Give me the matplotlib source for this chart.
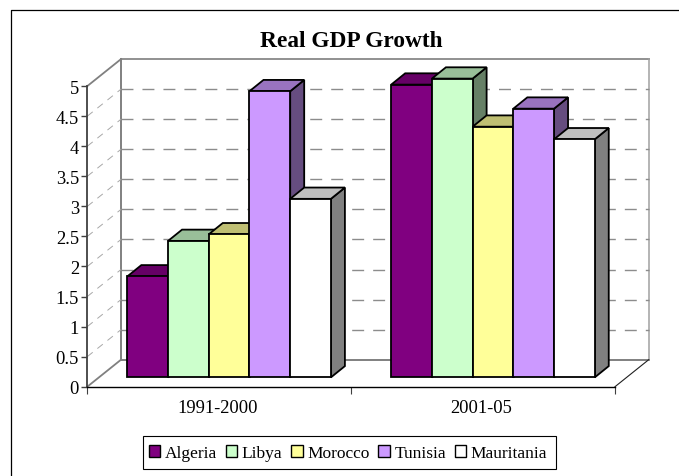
import matplotlib
matplotlib.use('Agg')
import matplotlib.pyplot as plt
import numpy as np
from matplotlib.lines import Line2D
from matplotlib.patches import Patch, Polygon, Rectangle
from matplotlib.transforms import Affine2D, IdentityTransform

periods = ['1991-2000', '2001-05']
countries = ['Algeria', 'Libya', 'Morocco', 'Tunisia', 'Mauritania']
algeria = [1.68, 4.87]
libya = [2.27, 4.97]
morocco = [2.38, 4.17]
tunisia = [4.76, 4.47]
mauritania = [2.97, 3.96]
y_ticks = [0, 0.5, 1, 1.5, 2, 2.5, 3, 3.5, 4, 4.5, 5]
y_labels = ['0', '0.5', '1', '1.5', '2', '2.5', '3', '3.5', '4', '4.5', '5']

series = [algeria, libya, morocco, tunisia, mauritania]
front_cols = ['#800080', '#CCFFCC', '#FFFF99', '#CC99FF', '#FFFFFF']
top_cols = ['#660066', '#99BF99', '#BFBF73', '#9973BF', '#BFBFBF']
side_cols = ['#400040', '#668066', '#808050', '#664D80', '#808080']

W, H = 679, 477
plt.rcParams['font.family'] = ['Liberation Serif', 'DejaVu Serif']
plt.rcParams['lines.scale_dashes'] = False

fig = plt.figure(figsize=(W / 100, H / 100), dpi=100)
ax = fig.add_axes([87.3 / W, (H - 387.7) / H, 527.7 / W, 300.6 / H])
ax.patch.set_visible(False)
ax.set_xlim(0, 2)
ax.set_ylim(0, 5)

# depth offsets in pixels
WALL = (33.7, 27)
BAR_FRONT = (9.9, 9.3)
BAR_DEPTH = (14, 11.3)
bar_w = 0.1543
px = IdentityTransform()


def to_px(x, y, off=(0, 0)):
    p = ax.transData.transform((x, y))
    return p[0] + off[0], p[1] + off[1]


def seg(a, b, **kw):
    ax.add_line(Line2D([a[0], b[0]], [a[1], b[1]], transform=px, clip_on=False, **kw))


# back wall and floor
seg(to_px(0, 0, WALL), to_px(2, 0, WALL), color='#808080', lw=1.4, zorder=1)
seg(to_px(0, 5, WALL), to_px(2, 5, WALL), color='#909090', lw=1.4, zorder=1)
seg(to_px(0, 0, WALL), to_px(0, 5, WALL), color='#808080', lw=1.4, zorder=1)
seg(to_px(2, 0, WALL), to_px(2, 5, WALL), color='#A0A0A0', lw=1.1, zorder=1)
seg(to_px(0, 0), to_px(0, 0, WALL), color='#808080', lw=1.3, zorder=1)
seg(to_px(0, 5), to_px(0, 5, WALL), color='#808080', lw=1.3, zorder=1)
seg(to_px(2, 0), to_px(2, 0, WALL), color='#202020', lw=0.8, zorder=1)

# gridlines, back wall and side wall
for v in y_ticks[1:-1]:
    seg(to_px(0, v, WALL), to_px(2, v, WALL), color='#8C8C8C', lw=1.0,
        ls=(0, (8.6, 6.5)), zorder=1)
    seg(to_px(0, v), to_px(0, v, WALL), color='#A8A8A8', lw=0.7,
        ls=(0, (5, 4.3)), zorder=1)

# bars, painted left to right so the next front hides the last side
front_tf = ax.transData + Affine2D().translate(*BAR_FRONT)
z = 2
for g in range(len(periods)):
    start = g + 0.5 - 2.5 * bar_w
    for i, vals in enumerate(series):
        x0 = start + i * bar_w
        x1 = x0 + bar_w
        v = vals[g]
        back = (BAR_FRONT[0] + BAR_DEPTH[0], BAR_FRONT[1] + BAR_DEPTH[1])
        side = [to_px(x1, 0, BAR_FRONT), to_px(x1, v, BAR_FRONT), to_px(x1, v, back), to_px(x1, 0, back)]
        top = [to_px(x0, v, BAR_FRONT), to_px(x1, v, BAR_FRONT), to_px(x1, v, back), to_px(x0, v, back)]
        ax.add_patch(Polygon(side, closed=True, fc=side_cols[i], ec='black', lw=1.3,
                             transform=px, clip_on=False, zorder=z))
        ax.add_patch(Polygon(top, closed=True, fc=top_cols[i], ec='black', lw=1.3,
                             transform=px, clip_on=False, zorder=z))
        ax.bar(x0, v, bar_w, align='edge', color=front_cols[i], edgecolor='black', lw=1.3,
               transform=front_tf, clip_on=False, zorder=z)
        z += 1

ax.set_xlim(0, 2)
ax.set_ylim(0, 5)

# axes
for s in ['top', 'right']:
    ax.spines[s].set_visible(False)
ax.spines['left'].set_color('#404040')
ax.spines['left'].set_linewidth(1.3)
ax.spines['bottom'].set_color('black')
ax.spines['bottom'].set_linewidth(1.0)
ax.set_yticks(y_ticks)
ax.set_yticklabels(y_labels, fontsize=13.3)
ax.tick_params(axis='y', length=4, width=1.0, color='#404040', pad=2)
ax.set_xticks([0, 1, 2])
ax.set_xticklabels([])
ax.tick_params(axis='x', which='major', length=5, width=0.8, color='#404040')
ax.set_xticks([0.495, 1.493], minor=True)
ax.set_xticklabels(periods, minor=True, fontsize=13.3)
ax.tick_params(axis='x', which='minor', length=0, pad=9)

fig.text(351 / W, 1 - 41.5 / H, 'Real GDP Growth', fontsize=16.8, fontweight='bold',
         ha='center', va='center')

# legend box drawn apart, its padding is taller than it is wide
fig.add_artist(Rectangle((143.3 / W, 1 - 470.3 / H), 412.4 / W, 33.6 / H, fc='white', ec='black',
                         lw=0.8, transform=fig.transFigure))
handles = [Patch(fc=c, ec='black', lw=1.0) for c in front_cols]
leg = fig.legend(handles, countries, ncol=5, loc='center', bbox_to_anchor=(348 / W, 1 - 454 / H),
                 fontsize=12.5, frameon=False,
                 handlelength=0.66, handleheight=0.66, handletextpad=0.26, columnspacing=0.5,
                 borderpad=0, borderaxespad=0)

# outer frame, runs off the right and bottom of the picture
fig.add_artist(Line2D([10.5 / W, 10.5 / W, 1], [0, 1 - 10.5 / H, 1 - 10.5 / H],
                      color='black', lw=0.9))

fig.savefig('out.png', dpi=100)
